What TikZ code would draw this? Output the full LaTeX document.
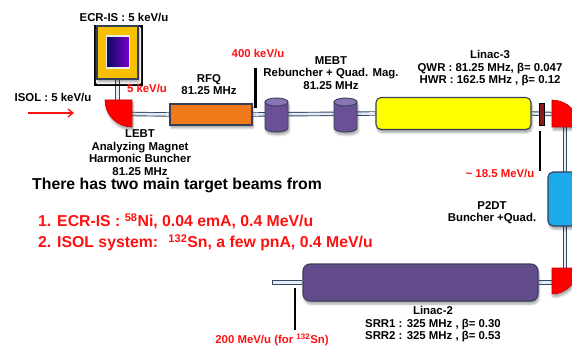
\documentclass[tikz,border=0pt]{standalone}
\usepackage{fontspec}
\setmainfont{Liberation Sans}
\usetikzlibrary{shadows.blur,arrows.meta}
\definecolor{gold}{HTML}{F7C000}
\definecolor{navy}{HTML}{0A0A60}
\definecolor{violet}{HTML}{7A00C8}
\definecolor{outl}{HTML}{34405A}
\definecolor{pipeout}{HTML}{34486A}
\definecolor{pipein}{HTML}{E4ECF4}
\definecolor{orng}{HTML}{F07A1A}
\definecolor{cylbody}{HTML}{6B5096}
\definecolor{cyltop}{HTML}{8C74B4}
\definecolor{lyellow}{HTML}{FFFF00}
\definecolor{skyb}{HTML}{1CAAEA}
\definecolor{lpurple}{HTML}{634C8C}
\definecolor{dred}{HTML}{8B1A1A}
\definecolor{mred}{HTML}{FF0000}
\definecolor{txtred}{HTML}{FF1010}
\pgfdeclarelayer{bg}
\pgfdeclarelayer{paper}
\pgfsetlayers{paper,bg,main}
\begin{document}
\begin{tikzpicture}[x=1pt,y=-1pt,
  lbl/.style={font=\bfseries\fontsize{11.4}{12.6}\selectfont, align=center, inner sep=0},
  rlbl/.style={lbl, text=txtred},
  big/.style={font=\bfseries\fontsize{15.8}{18}\selectfont, inner sep=0, anchor=west},
  rbig/.style={big, text=txtred},
  shad/.style={blur shadow={shadow xshift=1pt, shadow yshift=-3pt, shadow opacity=35, shadow blur steps=6}},
  comp/.style={draw=outl, line width=1.1pt, inner sep=0, shad},
  ecrbox/.style={comp, fill=gold, minimum width=41pt, minimum height=53pt},
  ecrin/.style={draw=white!85!gray, line width=1.2pt, inner sep=0, left color=navy, right color=violet, minimum width=23pt, minimum height=32pt},
  magnet/.style={fill=mred, draw=red!75!black, line width=0.6pt, shad},
  rfqbox/.style={comp, fill=orng, minimum width=82pt, minimum height=21pt},
  l3box/.style={comp, fill=lyellow, rounded corners=5pt, minimum width=155pt, minimum height=32pt},
  barbox/.style={draw=black, line width=0.5pt, fill=dred, inner sep=0, minimum width=5pt, minimum height=22pt},
  p2box/.style={comp, fill=skyb, rounded corners=5pt, minimum width=34pt, minimum height=54pt},
  l2box/.style={comp, fill=lpurple, rounded corners=7pt, minimum width=235pt, minimum height=37pt},
  pipe/.style={draw=pipeout, line width=0.9pt, double=pipein, double distance=2.6pt},
  marker/.style={draw=black, line width=2.6pt},
  cyl/.style={fill=cylbody, draw=outl, line width=0.9pt, shad},
  cyltopst/.style={fill=cyltop, draw=outl, line width=0.9pt}
]
\useasboundingbox (0,0) rectangle (572,347);
\begin{pgfonlayer}{paper}
\fill[white] (0,0) rectangle (572,347);
\end{pgfonlayer}

% components
\node[ecrbox] (ecr) at (117.5,52.5) {};
\node[ecrin] (ecrin) at (118,52) {};
\path[magnet] (105,100) -- (132,100) -- (132,127) .. controls (117,127) and (105,115) .. (105,100) -- cycle;
\coordinate (m1n) at (117.5,100);
\coordinate (m1e) at (132,114);
\node[rfqbox] (rfq) at (211,114.5) {};
\foreach \c/\n in {276.5/cyla, 345.5/cylb} {
  \path[cyl] (\c-11.5,102) -- (\c-11.5,128) .. controls (\c-11.5,130.2) and (\c-6.4,132) .. (\c,132) .. controls (\c+6.4,132) and (\c+11.5,130.2) .. (\c+11.5,128) -- (\c+11.5,102) -- cycle;
  \path[cyltopst] (\c,102) ellipse [x radius=11.5, y radius=4];
  \coordinate (\n) at (\c,115);
}
\node[l3box] (l3) at (453.5,113.5) {};
\node[barbox] (bar) at (542,114) {};
\path[magnet] (552,127) -- (552,100) .. controls (567,100) and (579,112) .. (579,127) -- cycle;
\coordinate (m2w) at (552,114);
\coordinate (m2s) at (565,127);
\node[p2box] (p2) at (565,199) {};
\path[magnet] (552,268) -- (578,268) .. controls (578,282) and (566,294) .. (552,294) -- cycle;
\coordinate (m3n) at (565,268);
\coordinate (m3w) at (552,282.5);
\node[l2box] (l2) at (420.5,282.5) {};
\coordinate (l2end) at (272,282.5);

% pipes
\begin{pgfonlayer}{bg}
  \draw[pipe] (ecr.south) -- (m1n);
  \draw[pipe] (m1e) -- (rfq.west);
  \draw[pipe] (rfq.east) -- (l3.west);
  \draw[pipe] (l3.east) -- (m2w);
  \draw[pipe] (m2s) -- (m3n);
  \draw[pipe] (m3w) -- (l2.east);
  \draw[pipe] (l2.west) -- (l2end);
  \draw[pipeout, line width=0.9pt] (272,279.8) -- (272,285.2);
\end{pgfonlayer}

% markers
\draw[marker] (255.5,68) -- (255.5,108);
\draw[marker] (540,131) -- (540,171);
\draw[marker] (295,288) -- (295,330);

% ISOL arrow
\coordinate (isola) at (28,113);
\coordinate (isolb) at (74,113);
\draw[txtred, line width=1.3pt, -{Straight Barb[length=5pt,width=8pt]}] (isola) -- (isolb);

% labels
\node[lbl] (tecr) at (124,17) {ECR-IS : 5 keV/u};
\node[rlbl] (t5k) at (147,88) {5 keV/u};
\node[lbl] (tisol) at (53,97) {ISOL : 5 keV/u};
\node[lbl, anchor=north] (tlebt) at (140,129.5) {LEBT\\Analyzing Magnet\\Harmonic Buncher\\81.25 MHz};
\node[lbl, anchor=north] (trfq) at (209,74) {RFQ\\81.25 MHz};
\node[rlbl] (t400) at (258,53) {400 keV/u};
\node[lbl, anchor=north] (tmebt) at (331,56) {MEBT\\Rebuncher + Quad. Mag.\\81.25 MHz};
\node[lbl, anchor=north] (tl3) at (490,50) {Linac-3\\QWR : 81.25 MHz, β= 0.047\\HWR : 162.5 MHz , β= 0.12};
\node[rlbl] (t185) at (500,173) {\textasciitilde{} 18.5 MeV/u};
\node[lbl, anchor=north] (tp2) at (492,201) {P2DT\\Buncher +Quad.};
\node[lbl, anchor=north] (tl2) at (433,306) {Linac-2\\SRR1 : 325 MHz , β= 0.30\\SRR2 : 325 MHz , β= 0.53};
\node[rlbl] (t200) at (272,340) {200 MeV/u (for \textsuperscript{132}Sn)};
\node[big] (tmain) at (32,185) {There has two main target beams from};
\node[rbig] (tl1) at (38,221) {1. ECR-IS : \textsuperscript{58}Ni, 0.04 emA, 0.4 MeV/u};
\node[rbig] (tl2b) at (38,243) {2. ISOL system: \ \textsuperscript{132}Sn, a few pnA, 0.4 MeV/u};
\end{tikzpicture}
\end{document}
